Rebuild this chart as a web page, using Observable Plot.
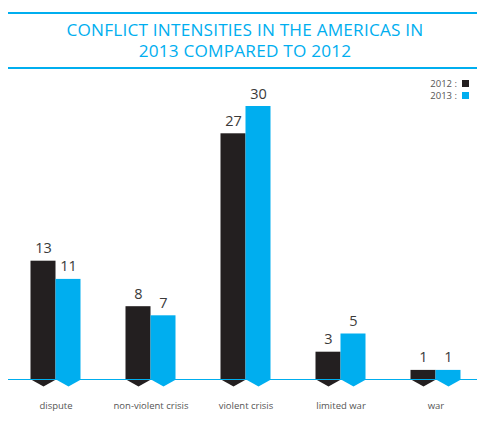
<!DOCTYPE html>
<html>
<head>
<meta charset="utf-8">
<script src="https://cdn.jsdelivr.net/npm/d3@7"></script>
<script src="https://cdn.jsdelivr.net/npm/@observablehq/plot@0.6"></script>
<style>
  body { margin: 0; background: #fff; font-family: "Open Sans", sans-serif; }
  #wrap { position: relative; width: 477px; height: 428px; overflow: hidden; }
  #head { position: absolute; left: 8px; top: 12px; width: 469px; height: 53px;
          border-top: 2px solid #00aeef; border-bottom: 2px solid #00aeef; }
  #title { position: absolute; left: 5px; right: 0; top: 5px; text-align: center;
           color: #00aeef; font-size: 17.2px; line-height: 21px; letter-spacing: 0.2px; }
  #legend { position: absolute; right: 8px; top: 77px; font-size: 9.5px; color: #555; }
  #legend div { display: flex; align-items: center; justify-content: flex-end; height: 12px; }
  #legend span.sw { display: inline-block; width: 7px; height: 7px; margin-left: 5px; }
  #chart { position: absolute; left: 0; top: 70px; }
</style>
</head>
<body>
<div id="wrap">
  <div id="head"><div id="title">CONFLICT INTENSITIES IN THE AMERICAS IN<br>2013 COMPARED TO 2012</div></div>
  <div id="legend"></div>
  <div id="chart"></div>
</div>
<script>
const categories = ["dispute", "non-violent crisis", "violent crisis", "limited war", "war"];
const years = ["2012", "2013"];
const values2012 = [13, 8, 27, 3, 1];
const values2013 = [11, 7, 30, 5, 1];
const colors = ["#231f20", "#00aeef"];

const data2012 = categories.map((c, i) => ({category: c, value: values2012[i]}));
const data2013 = categories.map((c, i) => ({category: c, value: values2013[i]}));

const chevron = {
  draw(ctx) {
    ctx.moveTo(-12.5, 0);
    ctx.lineTo(0, 7);
    ctx.lineTo(12.5, 0);
    ctx.closePath();
  }
};

const legend = document.getElementById("legend");
years.forEach((y, i) => {
  const row = document.createElement("div");
  row.innerHTML = `<span>${y} :</span><span class="sw" style="background:${colors[i]}"></span>`;
  legend.appendChild(row);
});

const chart = Plot.plot({
  width: 477,
  height: 358,
  marginTop: 36,
  marginBottom: 49,
  marginLeft: 8,
  marginRight: 0,
  style: {fontFamily: "Open Sans, sans-serif", background: "transparent"},
  x: {domain: categories, range: [7.5, 482.5], padding: 0, label: null},
  y: {domain: [0, 30], axis: null},
  marks: [
    Plot.axisX({tickSize: 0, tickPadding: 23, fontSize: 9.5, color: "#555", label: null}),
    Plot.barY(data2012, {x: "category", y: "value", fill: colors[0], insetLeft: 22.5, insetRight: 47.5}),
    Plot.barY(data2013, {x: "category", y: "value", fill: colors[1], insetLeft: 47.5, insetRight: 22.5}),
    Plot.dot(data2012, {x: "category", y: () => 0, symbol: chevron, r: 1, fill: colors[0], stroke: null, dx: -12.5}),
    Plot.dot(data2013, {x: "category", y: () => 0, symbol: chevron, r: 1, fill: colors[1], stroke: null, dx: 12.5}),
    Plot.ruleY([0], {stroke: "#00aeef", strokeWidth: 1}),
    Plot.text(data2012, {x: "category", y: "value", text: d => String(d.value), dx: -12.5, dy: -8, lineAnchor: "bottom", fontSize: 14.5, fill: "#3a3a3a"}),
    Plot.text(data2013, {x: "category", y: "value", text: d => String(d.value), dx: 12.5, dy: -8, lineAnchor: "bottom", fontSize: 14.5, fill: "#3a3a3a"})
  ]
});
document.getElementById("chart").appendChild(chart);
</script>
</body>
</html>
